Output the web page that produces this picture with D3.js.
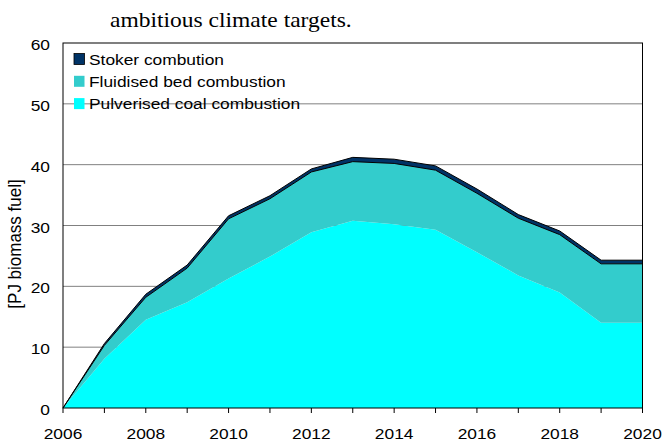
<!DOCTYPE html>
<html>
<head>
<meta charset="utf-8">
<script src="https://cdn.jsdelivr.net/npm/d3@7"></script>
<style>
  body { margin: 0; background: #fff; }
  svg { display: block; }
  text { font-family: "Liberation Sans", Arial, sans-serif; fill: #000; }
</style>
</head>
<body>
<div id="chart"></div>
<script>
// values, PJ per year
const years = [2006, 2007, 2008, 2009, 2010, 2011, 2012, 2013, 2014, 2015, 2016, 2017, 2018, 2019, 2020];
const pulverised = [0, 8.1, 14.5, 17.4, 21.3, 24.9, 28.9, 30.8, 30.2, 29.3, 25.6, 21.8, 19.0, 14.0, 14.0];
const fluidised = [0, 2.2, 3.7, 5.6, 9.8, 9.5, 9.9, 9.7, 10.0, 9.8, 9.7, 9.4, 9.5, 9.7, 9.7];
const stoker = [0, 0.3, 0.5, 0.5, 0.5, 0.5, 0.5, 0.7, 0.7, 0.7, 0.7, 0.6, 0.6, 0.6, 0.6];
const seriesKeys = ['pulverised', 'fluidised', 'stoker'];
const seriesNames = ['Pulverised coal combustion', 'Fluidised bed combustion', 'Stoker combution'];
const seriesColors = ['#00ffff', '#33cccc', '#003366'];
const yTicks = [0, 10, 20, 30, 40, 50, 60];
const xTickLabels = [2006, 2008, 2010, 2012, 2014, 2016, 2018, 2020];

const W = 666, H = 443;
const margin = { top: 43, right: 23.5, bottom: 35, left: 63 };
const width = W - margin.left - margin.right;
const height = H - margin.top - margin.bottom;
const sx = 1.12; // the source picture is a bit wider than tall

const rows = years.map((y, i) => ({
  year: y, pulverised: pulverised[i], fluidised: fluidised[i], stoker: stoker[i]
}));

const xScale = d3.scaleLinear().domain([2006, 2020]).range([0, width]);
const yScale = d3.scaleLinear().domain([0, 60]).range([height, 0]);

const svg = d3.select('#chart').append('svg')
  .attr('width', W)
  .attr('height', H);

// line of document text above the chart
svg.append('text')
  .attr('transform', 'translate(110,26.5) scale(' + sx + ',1)')
  .style('font-family', '"Liberation Serif", "Times New Roman", serif')
  .style('font-size', '21px')
  .text('ambitious climate targets.');

const g = svg.append('g')
  .attr('transform', 'translate(' + margin.left + ',' + margin.top + ')');

// gridlines
g.selectAll('.grid')
  .data(yTicks.filter(d => d > 0 && d < 60))
  .enter().append('line')
  .attr('class', 'grid')
  .attr('x1', 0).attr('x2', width)
  .attr('y1', d => yScale(d)).attr('y2', d => yScale(d))
  .attr('stroke', '#808080')
  .attr('stroke-width', 1);

const stack = d3.stack().keys(seriesKeys);
const layers = stack(rows);

const area = d3.area()
  .x(d => xScale(d.data.year))
  .y0(d => yScale(d[0]))
  .y1(d => yScale(d[1]));

g.selectAll('.layer')
  .data(layers)
  .enter().append('path')
  .attr('class', 'layer')
  .attr('d', area)
  .attr('fill', (d, i) => seriesColors[i])
  .attr('stroke', (d, i) => i === 2 ? '#000' : 'none')
  .attr('stroke-width', 1)
  .attr('stroke-linejoin', 'round');

// plot frame
g.append('rect')
  .attr('x', 0).attr('y', 0)
  .attr('width', width).attr('height', height)
  .attr('fill', 'none')
  .attr('stroke', '#000')
  .attr('stroke-width', 1);

// x ticks every year, labels every second year
g.selectAll('.xtick')
  .data(years)
  .enter().append('line')
  .attr('class', 'xtick')
  .attr('x1', d => xScale(d)).attr('x2', d => xScale(d))
  .attr('y1', height).attr('y2', height + 5)
  .attr('stroke', '#000');

g.selectAll('.xlabel')
  .data(xTickLabels)
  .enter().append('text')
  .attr('class', 'xlabel')
  .attr('transform', d => 'translate(' + xScale(d) + ',' + (height + 31) + ') scale(' + sx + ',1)')
  .attr('text-anchor', 'middle')
  .style('font-size', '15.5px')
  .text(d => d);

g.selectAll('.ylabel')
  .data(yTicks)
  .enter().append('text')
  .attr('class', 'ylabel')
  .attr('transform', d => 'translate(-13,' + (yScale(d) + 7) + ') scale(' + sx + ',1)')
  .attr('text-anchor', 'end')
  .style('font-size', '15.5px')
  .text(d => d);

svg.append('text')
  .attr('transform', 'translate(21,244) rotate(-90) scale(1,' + sx + ')')
  .attr('text-anchor', 'middle')
  .style('font-size', '17px')
  .text('[PJ biomass fuel]');

// legend, top series first
const legend = g.selectAll('.legend')
  .data([2, 1, 0])
  .enter().append('g')
  .attr('class', 'legend')
  .attr('transform', (d, i) => 'translate(11,' + (10.5 + i * 22.3) + ')');

legend.append('rect')
  .attr('width', 10.5).attr('height', 11)
  .attr('fill', d => seriesColors[d])
  .attr('stroke', d => d === 2 ? '#000' : 'none')
  .attr('stroke-width', 0.8);

legend.append('text')
  .attr('transform', 'translate(15,11) scale(' + sx + ',1)')
  .style('font-size', '15.5px')
  .text(d => seriesNames[d]);
</script>
</body>
</html>
